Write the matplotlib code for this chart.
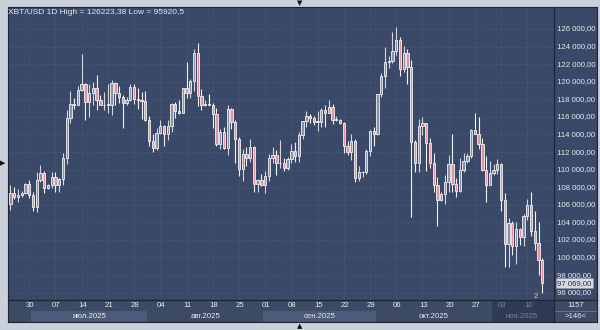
import matplotlib
matplotlib.use("Agg")
import matplotlib.pyplot as plt
from matplotlib.patches import Rectangle
import numpy as np
import pandas as pd

# XBT/USD daily candles, 25 Jun - 14 Nov 2025
dates = pd.date_range("2025-06-25", "2025-11-14", freq="D")

opens = [
    106100, 107300, 106900, 107100, 107300, 108400,
    107100, 105700, 108800, 109600, 107900, 108200, 109200, 108200, 108900, 111300,
    115900, 117500, 117400, 119100, 119800, 117700, 118700, 119300, 117900, 117300,
    117400, 117400, 119900, 118700, 118300, 117600, 117900, 119400, 118000, 117900, 117800,
    115700, 113300, 112500, 114200, 115000, 114100, 115000, 117500, 116700, 116500,
    119300, 118700, 120100, 123300, 118400, 117400, 117500, 117400, 116300, 112900,
    114300, 112500, 116900, 115400, 113500, 110100, 111800, 111300, 112600, 108400, 108800,
    108300, 109300, 111300, 111700, 110700, 110700, 110200, 111200, 112100, 111500,
    113900, 115500, 116100, 115900, 115400, 115400, 116800, 116500, 117100, 115700,
    115700, 115300, 112700, 112000, 113300, 109000, 109700, 109700, 112100, 114400,
    114100, 118600, 120600, 122300, 122400, 123500, 124800, 121500, 123300, 121700,
    113200, 110700, 115000, 115300, 113000, 110700, 108200, 106500, 107200, 108600,
    110600, 108400, 107600, 110000, 111000, 111600, 114500, 114100, 112900, 110000, 108300,
    109600, 110000, 110600, 106500, 101500, 103900, 101300, 103300, 102300, 104700,
    106000, 103000, 101600, 99700,
]
highs = [
    108300, 108000, 107800, 107600, 108500, 108800,
    107500, 109700, 110500, 109800, 108400, 109700, 109700, 109000, 111900, 116800,
    118900, 118100, 119500, 123200, 119900, 119700, 120000, 120800, 118500, 118800,
    119700, 120200, 120000, 119500, 118500, 118300, 119800, 119800, 119300, 118800, 118900,
    116100, 114000, 114700, 115700, 115100, 115700, 117600, 117700, 117900, 119300,
    122300, 120300, 123700, 124450, 119200, 117900, 118600, 117600, 117000, 114600,
    114800, 117400, 117000, 115600, 113700, 112300, 112600, 113500, 112700, 108900, 109500,
    109900, 111800, 112600, 112200, 113400, 111300, 111400, 112900, 113200, 114300,
    115500, 116700, 116300, 116100, 116700, 117000, 117300, 117900, 117500, 116100,
    115800, 115400, 113300, 114000, 113500, 110400, 109800, 112400, 114500, 114800,
    118600, 121000, 123900, 122900, 125700, 126223, 125100, 124100, 123700, 122500,
    113400, 115800, 116000, 115300, 113600, 111900, 109200, 107500, 109400, 111700,
    114000, 109100, 111300, 111900, 111900, 114600, 116400, 116000, 113600, 111600, 111000,
    110600, 111200, 110700, 107300, 104500, 104200, 104000, 103400, 104900, 106700,
    107500, 105300, 104000, 99900,
]
lows = [
    105400, 106700, 106300, 106900, 107200, 106800,
    105300, 105200, 108600, 107300, 107800, 107900, 107500, 107500, 108300, 110600,
    115300, 116900, 117300, 118900, 115700, 116000, 117400, 116800, 117300, 116800,
    116500, 116200, 117300, 117600, 114700, 117400, 117800, 117500, 116900, 115800, 115500,
    112700, 112000, 112200, 114100, 112700, 113400, 114300, 115900, 116300, 116500,
    118100, 118200, 118900, 117200, 116800, 117200, 117300, 114700, 112700, 112400,
    112400, 111700, 114600, 110800, 109300, 108700, 110400, 110900, 107500, 107500, 108100,
    107300, 108700, 110800, 109400, 110200, 109900, 110000, 110800, 110900, 110900,
    113500, 114800, 115300, 115100, 114400, 114800, 114800, 116400, 115200, 115500,
    115200, 111900, 111700, 111100, 108600, 108700, 109200, 109500, 111600, 112700,
    113900, 118300, 119300, 121600, 122100, 123100, 120600, 121100, 119700, 104600,
    109700, 109700, 113900, 109900, 110200, 107500, 103600, 106400, 106100, 107500,
    107500, 106900, 107500, 109700, 110700, 111300, 114000, 112300, 109900, 106300, 108300,
    109400, 109500, 105300, 98900, 98900, 100300, 99300, 101400, 101300, 104300,
    102500, 100800, 98000, 95920,
]
closes = [
    107300, 106900, 107100, 107300, 108400, 107100,
    105700, 108800, 109600, 107900, 108200, 109200, 108200, 108900, 111300, 115900,
    117500, 117400, 119100, 119800, 117700, 118700, 119300, 117900, 117300, 117400,
    117400, 119900, 118700, 118300, 117600, 117900, 119400, 118000, 117900, 117800, 115700,
    113300, 112500, 114200, 115000, 114100, 115000, 117500, 116700, 116500, 119300,
    118700, 120100, 123300, 118400, 117400, 117500, 117400, 116300, 112900, 114300,
    112500, 116900, 115400, 113500, 110100, 111800, 111300, 112600, 108400, 108800, 108300,
    109300, 111300, 111700, 110700, 110700, 110200, 111200, 112100, 111500, 113900,
    115500, 116100, 115900, 115400, 115400, 116800, 116500, 117100, 115700, 115700,
    115300, 112700, 112000, 113300, 109000, 109700, 109700, 112100, 114400, 114100,
    118600, 120600, 122300, 122400, 123500, 124800, 121500, 123300, 121700, 113200,
    110700, 115000, 115300, 113000, 110700, 108200, 106500, 107200, 108600, 110600,
    108400, 107600, 110000, 111000, 111600, 114500, 114100, 112900, 110000, 108300, 109600,
    110000, 110600, 106500, 101500, 103900, 101300, 103300, 102300, 104700, 106000,
    103000, 101600, 99700, 97069,
]

last_price = 97069.00
high_all = 126223.38
low_all = 95920.5
bars_count = "1157"
bars_shown = ">146<"
month_names = {7: "июл.2025", 8: "авг.2025", 9: "сен.2025", 10: "окт.2025", 11: "ноя.2025"}

BG = "#3a4968"
FRAME = "#c9d0db"
GRID = "#56668a"
TXT = "#e6e9ef"
EDGE = "#f1f2f6"
PINK = "#e4939d"
DARK = "#1d2433"

plt.rcParams["font.family"] = ["Liberation Sans", "DejaVu Sans"]

fig = plt.figure(figsize=(6, 3.3), dpi=100, facecolor=FRAME)
W, H = 600.0, 330.0

def box(x0, y0, x1, y1):
    return [x0 / W, 1 - y1 / H, (x1 - x0) / W, (y1 - y0) / H]

ax = fig.add_axes(box(7.5, 7, 553.5, 299.5))
ax.set_facecolor(BG)

d = np.arange(len(dates))
o = np.array(opens, float)
h = np.array(highs, float)
l = np.array(lows, float)
c = np.array(closes, float)

up = c >= o
ax.vlines(d[up], l[up], h[up], color="#d2d6de", lw=0.8, zorder=3)
ax.vlines(d[~up], l[~up], h[~up], color=EDGE, lw=0.8, zorder=3)
body_lo = np.minimum(o, c)
body_h = np.maximum(np.abs(c - o), 80)
ax.bar(d[up], body_h[up], bottom=body_lo[up], width=0.62, color="#8a93a6",
       edgecolor=EDGE, linewidth=0.6, zorder=4)
ax.bar(d[~up], body_h[~up], bottom=body_lo[~up], width=0.62, color=PINK,
       edgecolor=EDGE, linewidth=0.6, zorder=4)

xlim = (-0.8, 145.0)
ylim = (95220, 128508)
ax.set_xlim(*xlim)
ax.set_ylim(*ylim)

# weekly ticks on Mondays
week_idx = [i for i, t in enumerate(dates) if t.weekday() == 0]
price_ticks = np.arange(96000, 126001, 2000)
ax.set_xticks(week_idx)
ax.set_yticks(price_ticks)
ax.grid(True, color=GRID, lw=0.5, linestyle=(0, (1, 2)))
ax.tick_params(length=0, labelbottom=False, labelleft=False)
for s in ax.spines.values():
    s.set_color(DARK)
    s.set_linewidth(0.8)

fig.text(8.5 / W, 1 - 13 / H,
         f"XBT/USD 1D High = {high_all:.2f}".replace(".", ",") + f" Low = {low_all}".replace(".", ","),
         fontsize=6, color=TXT, va="center", ha="left")

# right price scale
axr = fig.add_axes(box(554, 7, 597, 299.5))
axr.set_facecolor(BG)
axr.set_ylim(*ylim)
axr.set_xlim(0, 1)
axr.set_xticks([])
axr.set_yticks([])
for s in axr.spines.values():
    s.set_color(DARK)
    s.set_linewidth(0.8)
for v in price_ticks:
    lab = f"{v:,.2f}".replace(",", " ").replace(".", ",")
    axr.text(0.08, v, lab, fontsize=5.6, color=TXT, va="center", ha="left")
lp = f"{last_price:,.2f}".replace(",", " ").replace(".", ",")
axr.text(0.08, last_price, lp, fontsize=5.6, color="#2a3040", va="center", ha="left",
         bbox=dict(boxstyle="square,pad=0.2", fc="#d6dae2", ec="#8e97a8", lw=0.5), zorder=5)

# date scale
axd = fig.add_axes(box(7.5, 299.5, 553.5, 322))
axd.set_facecolor("#3c4a65")
axd.set_xlim(*xlim)
axd.set_ylim(0, 2)
axd.set_xticks([])
axd.set_yticks([])
for s in axd.spines.values():
    s.set_color(DARK)
    s.set_linewidth(0.8)
months = dates.month
for m in sorted(set(months)):
    idx = np.where(months == m)[0]
    x0, x1 = idx[0] - 0.5, idx[-1] + 0.5
    if m == 11:
        axd.add_patch(Rectangle((x0, 0), xlim[1] - x0, 2, fc="#2f3b53", ec="none", zorder=1))
        col = "#7a8399"
    else:
        col = TXT
        if m in (7, 9):
            axd.add_patch(Rectangle((x0, 0), x1 - x0, 1, fc="#4b5a78", ec="none", zorder=1))
    if m in month_names:
        axd.text((x0 + x1) / 2 if m != 11 else 136.5, 0.5, month_names[m], fontsize=5.6,
                 color=col, ha="center", va="center", zorder=2)
for i in week_idx:
    col = "#7a8399" if dates[i].month == 11 else TXT
    axd.text(i + 0.3, 1.5, f"{dates[i].day:02d}", fontsize=5.6, color=col,
             ha="center", va="center", zorder=2)

# corner cell
axc = fig.add_axes(box(554, 299.5, 597, 322))
axc.set_facecolor("#3c4a65")
axc.set_xticks([])
axc.set_yticks([])
axc.set_xlim(0, 1)
axc.set_ylim(0, 2)
for s in axc.spines.values():
    s.set_color(DARK)
    s.set_linewidth(0.8)
axc.axhline(1, color="#7a8399", lw=0.5)
axc.text(0.5, 1.5, bars_count, fontsize=5.6, color=TXT, ha="center", va="center")
axc.text(0.5, 0.5, bars_shown, fontsize=5.6, color=TXT, ha="center", va="center")

fig.text(536 / W, 1 - 296 / H, "2", fontsize=5.6, color="#c6ccd8", ha="center", va="center")
fig.text(3 / W, 1 - 163 / H, "▶", fontsize=5, color="#111", ha="center", va="center",
         family="DejaVu Sans")
fig.text(300 / W, 1 - 3 / H, "▼", fontsize=5, color="#111", ha="center", va="center",
         family="DejaVu Sans")
fig.text(300 / W, 1 - 326.5 / H, "▲", fontsize=5, color="#111", ha="center", va="center",
         family="DejaVu Sans")

fig.savefig("out.png", dpi=100, facecolor=FRAME)
